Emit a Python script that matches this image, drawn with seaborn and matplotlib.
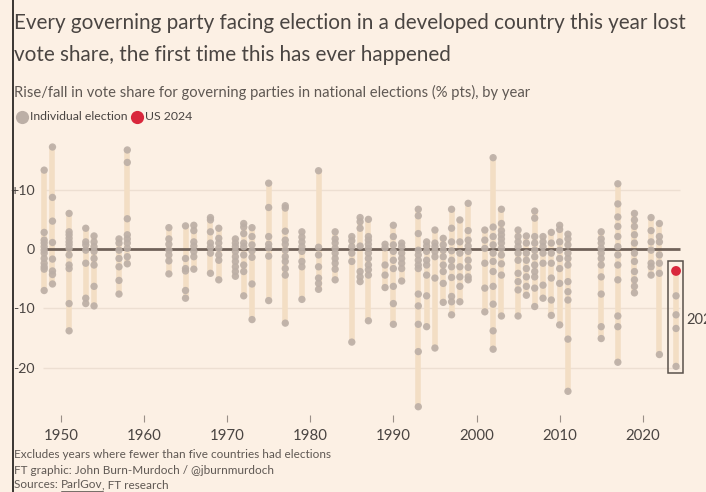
import matplotlib
matplotlib.use("Agg")
import matplotlib.pyplot as plt
from matplotlib.lines import Line2D
from matplotlib.patches import Rectangle
import seaborn as sns
import pandas as pd

# ---- data ----
years = [1948, 1949, 1951, 1953, 1954, 1957, 1958, 1963, 1965, 1966, 1968, 1969,
         1971, 1972, 1973, 1975, 1977, 1979, 1981, 1983, 1985, 1986, 1987, 1989,
         1990, 1991, 1993, 1994, 1995, 1996, 1997, 1998, 1999, 2001, 2002, 2003,
         2005, 2006, 2007, 2008, 2009, 2010, 2011, 2015, 2017, 2019, 2021, 2022, 2024]

changes = [
    [13.3, 2.8, 1.5, 1.0, 0.4, -0.2, -0.7, -1.6, -2.4, -3.0, -3.4, -7.0],          # 1948
    [17.2, 8.7, 4.7, 1.1, -1.7, -3.7, -4.3, -5.9],                                 # 1949
    [6.0, 2.9, 2.4, 1.8, 1.2, 0.7, 0.1, -1.0, -2.7, -3.3, -9.2, -13.8],            # 1951
    [3.5, 1.2, 0.7, -0.2, -2.4, -8.3, -9.2],                                       # 1953
    [2.2, 1.2, 0.4, -0.4, -1.6, -2.7, -6.3, -9.6],                                 # 1954
    [1.7, 1.0, -0.2, -1.6, -3.0, -5.3, -7.6],                                      # 1957
    [16.7, 14.6, 5.1, 2.4, 1.7, 1.0, 0.1, -1.3, -2.5],                             # 1958
    [3.6, 1.7, 0.8, -0.2, -1.0, -2.0, -4.2],                                       # 1963
    [3.9, -1.6, -3.3, -3.7, -7.0, -8.3],                                           # 1965
    [4.0, 3.1, 1.2, 0.5, -0.4, -1.3, -3.4],                                        # 1966
    [5.3, 4.9, 2.9, 1.0, 0.3, -0.7, -4.1],                                         # 1968
    [3.5, 1.8, 1.0, 0.1, -1.0, -1.9, -5.2],                                        # 1969
    [1.7, 1.0, 0.4, -0.4, -1.3, -2.1, -3.0, -3.8, -4.6],                           # 1971
    [4.3, 3.7, 2.6, 1.0, 0.4, -1.0, -2.7, -3.8, -7.9],                             # 1972
    [3.6, 2.1, 0.7, -0.3, -1.4, -5.9, -11.9],                                      # 1973
    [11.1, 7.0, 2.1, 0.8, 0.2, -1.2, -8.7],                                        # 1975
    [7.3, 6.9, 3.0, 1.5, 0.8, -0.2, -1.3, -2.1, -3.3, -4.4, -12.5],                # 1977
    [2.9, 2.0, 1.2, 0.4, -0.4, -2.1, -3.0, -8.5],                                  # 1979
    [13.2, 0.3, -1.0, -3.0, -4.9, -5.8, -6.8],                                     # 1981
    [2.9, 1.7, 1.0, 0.1, -0.7, -1.6, -2.4, -3.4, -5.2],                            # 1983
    [2.1, 1.4, 0.4, -0.7, -2.1, -15.7],                                            # 1985
    [5.3, 4.6, 3.5, 0.5, -3.8, -4.7, -5.5],                                        # 1986
    [5.0, 2.1, 1.5, 0.8, 0.1, -0.7, -1.6, -2.7, -3.5, -4.4, -12.1],                # 1987
    [0.8, 0.2, -2.7, -4.4, -6.5],                                                  # 1989
    [4.0, 2.1, 0.7, -0.4, -1.9, -3.3, -6.3, -9.2, -12.7],                          # 1990
    [1.0, 0.4, -0.7, -1.6, -2.4, -3.3, -5.4],                                      # 1991
    [6.7, 5.6, 2.6, -0.2, -1.0, -1.9, -2.7, -3.3, -7.6, -9.6, -12.7, -17.3, -26.6],  # 1993
    [1.2, 0.5, -0.4, -1.9, -2.7, -4.4, -7.9, -13.1],                               # 1994
    [3.2, 1.0, 0.4, -0.4, -1.3, -4.9, -16.7],                                      # 1995
    [1.8, 0.7, -0.2, -1.3, -2.7, -3.8, -5.8, -9.0],                                # 1996
    [6.7, 3.5, 1.2, -0.3, -1.9, -3.0, -4.8, -8.0, -8.9, -11.1],                    # 1997
    [4.9, 1.2, -0.7, -3.0, -4.7, -6.3, -8.9],                                      # 1998
    [7.7, 3.1, 1.5, 0.5, -0.4, -1.9, -3.1, -4.7, -5.2],                            # 1999
    [3.2, 1.5, 0.1, -2.4, -6.6, -10.6],                                            # 2001
    [15.4, 3.7, 2.1, 0.7, -0.7, -2.1, -3.8, -6.3, -9.3, -13.8, -16.9],             # 2002
    [6.7, 4.3, 3.1, 2.4, 1.7, 1.0, 0.1, -1.0, -2.5, -4.4, -11.3],                  # 2003
    [3.2, 2.1, 1.2, 0.4, -0.7, -1.9, -4.1, -5.5, -6.9, -11.3],                     # 2005
    [2.2, 1.0, -0.7, -1.9, -3.3, -4.7, -6.3, -7.8],                                # 2006
    [6.4, 5.2, 2.1, 1.0, -0.2, -1.3, -2.7, -3.8, -4.7, -6.6, -9.7],                # 2007
    [2.1, 1.2, 0.4, -0.7, -2.4, -6.1, -8.3],                                       # 2008
    [2.8, 1.0, -0.7, -2.4, -4.9, -8.6, -11.2],                                     # 2009
    [4.0, 3.3, 1.2, -0.2, -1.6, -3.3, -5.8, -12.8],                                # 2010
    [2.5, 1.7, 0.7, -0.7, -1.6, -2.7, -5.5, -7.2, -8.6, -15.2, -24.0],             # 2011
    [2.9, 1.7, 1.0, 0.1, -0.7, -1.6, -2.7, -4.7, -7.6, -13.1, -15.1],              # 2015
    [11.0, 7.6, 5.4, 3.8, 2.1, 0.4, -1.0, -2.7, -5.2, -11.3, -13.1, -19.1],        # 2017
    [6.0, 4.9, 3.8, 2.4, 1.0, -0.7, -2.1, -3.8, -5.2, -6.3, -7.4],                 # 2019
    [5.3, 3.1, 1.2, -0.2, -2.4, -3.0, -4.4],                                       # 2021
    [4.3, 2.1, 1.2, -1.0, -2.4, -4.1, -17.8],                                      # 2022
    [-7.9, -11.1, -13.4, -19.8],                                                   # 2024 (others)
]

us_year = 2024
us_value = -3.7

yticks = [-20, -10, 0, 10]
ytick_labels = ["-20", "-10", "0", "+10"]
xticks = [1950, 1960, 1970, 1980, 1990, 2000, 2010, 2020]

# ---- build long table ----
rows = []
for y, vals in zip(years, changes):
    for v in vals:
        rows.append({"year": y, "change": v})
df = pd.DataFrame(rows)
us_df = pd.DataFrame({"year": [us_year], "change": [us_value]})
allpts = pd.concat([df, us_df])
rng = allpts.groupby("year")["change"].agg(["min", "max"]).reset_index()

# ---- style ----
BG = "#FCF0E4"
BAR = "#F3DEC4"
DOT = "#BCAFA6"
RED = "#D9273C"
TXT = "#4A4542"
SUB = "#5F5853"

sns.set_theme(style="white")
plt.rcParams["font.family"] = ["Lato", "DejaVu Sans"]

W, H = 706, 492
fig = plt.figure(figsize=(W / 100, H / 100), dpi=100, facecolor=BG)
ax = fig.add_axes([40 / W, (H - 415) / H, (700 - 40) / W, (415 - 135) / H])
ax.set_facecolor(BG)

def px2year(p):
    return 1950 + (p - 60.8) / 8.314

ax.set_xlim(px2year(40), px2year(700))
ax.set_ylim((249 - 415) / 5.93, (249 - 135) / 5.93)

x0, x1 = px2year(43), px2year(680)
ax.hlines([10, -10, -20], x0, x1, color="#EDDFD2", lw=1.0, zorder=0)

# range bars
ax.vlines(rng["year"], rng["min"], rng["max"], color=BAR, lw=4.0,
          zorder=1, capstyle="round")
# zero line
ax.hlines(0, x0, x1, color="#706259", lw=2.0, zorder=2)

# dots
sns.scatterplot(data=df, x="year", y="change", ax=ax, color=DOT, s=28,
                edgecolor="none", alpha=0.9, zorder=3, legend=False)
sns.scatterplot(data=us_df, x="year", y="change", ax=ax, color=RED, s=50,
                edgecolor="none", zorder=4, legend=False)

# highlight box for 2024
ax.add_patch(Rectangle((px2year(667.7), (249 - 373) / 5.93),
                       px2year(682.7) - px2year(667.7), (373 - 261) / 5.93,
                       fill=False, edgecolor="#5A514B", lw=1.1, zorder=5))
ax.text(px2year(686), (249 - 320) / 5.93, "2024", fontsize=10.5, color=TXT,
        va="center", ha="left", clip_on=False)

for s in ax.spines.values():
    s.set_visible(False)
ax.set_xlabel("")
ax.set_ylabel("")
ax.set_xticks(xticks)
ax.set_xticklabels([str(t) for t in xticks])
ax.set_yticks(yticks)
ax.set_yticklabels(ytick_labels)
ax.tick_params(axis="x", direction="out", length=5, width=0.8, color="#9A8F88",
               labelsize=10.8, labelcolor=TXT, pad=5, bottom=True)
ax.tick_params(axis="y", length=0, labelsize=10.2, labelcolor=TXT, pad=4)

# ---- texts ----
fig.text(14 / W, 1 - 23 / H, "Every governing party facing election in a developed country this year lost",
         fontsize=14.9, color=TXT, va="center", ha="left")
fig.text(14 / W, 1 - 55 / H, "vote share, the first time this has ever happened",
         fontsize=14.9, color=TXT, va="center", ha="left")
fig.text(14 / W, 1 - 92 / H, "Rise/fall in vote share for governing parties in national elections (% pts), by year",
         fontsize=10.6, color=SUB, va="center", ha="left")

fig.add_artist(Line2D([22 / W], [1 - 117 / H], transform=fig.transFigure, marker="o",
                      ms=9.5, color=DOT, mec="none", ls="none"))
fig.text(30 / W, 1 - 117 / H, "Individual election", fontsize=8.8, color=TXT, va="center", ha="left")
fig.add_artist(Line2D([137 / W], [1 - 117 / H], transform=fig.transFigure, marker="o",
                      ms=9.5, color=RED, mec="none", ls="none"))
fig.text(145 / W, 1 - 117 / H, "US 2024", fontsize=8.8, color=TXT, va="center", ha="left")

NF = 8.5
fig.text(14 / W, 1 - 455 / H, "Excludes years where fewer than five countries had elections",
         fontsize=NF, color=SUB, va="center", ha="left")
fig.text(14 / W, 1 - 470 / H, "FT graphic: John Burn-Murdoch / @jburnmurdoch",
         fontsize=NF, color=SUB, va="center", ha="left")
t = fig.text(14 / W, 1 - 485 / H, "Sources: ", fontsize=NF, color=SUB, va="center", ha="left")
fig.canvas.draw()
bb = t.get_window_extent()
t2 = fig.text(bb.x1 / W, 1 - 485 / H, "ParlGov", fontsize=NF, color=SUB, va="center", ha="left")
fig.canvas.draw()
bb2 = t2.get_window_extent()
fig.add_artist(Line2D([bb2.x0 / W, bb2.x1 / W], [(bb2.y0 - 0.5) / H] * 2,
                      transform=fig.transFigure, color=SUB, lw=0.6))
fig.text(bb2.x1 / W, 1 - 485 / H, ", FT research", fontsize=NF, color=SUB, va="center", ha="left")

# left frame edge of the screenshot
fig.add_artist(Line2D([12.5 / W, 12.5 / W], [0, 1], transform=fig.transFigure,
                      color="#3A3532", lw=1.4))

fig.savefig("out.png", dpi=100, facecolor=BG)
